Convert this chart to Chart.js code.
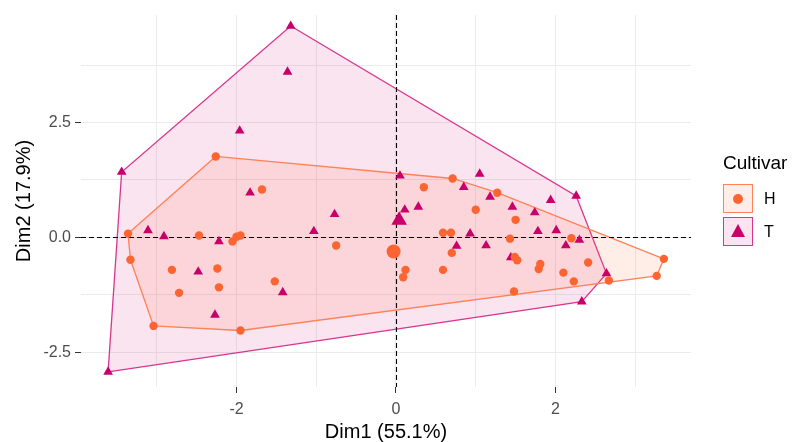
<!DOCTYPE html>
<html lang="en">
<head>
    <meta charset="UTF-8">
    <title>PCA individuals by Cultivar</title>
    <script src="https://cdn.jsdelivr.net/npm/chart.js"></script>
    <style>
        html, body { margin: 0; padding: 0; background: #fff; }
        #wrap { position: relative; width: 795px; height: 442px; font-family: "Liberation Sans", Arial, sans-serif; }
        #legend { position: absolute; left: 723px; top: 152px; color: #000; }
        #legend .title { font-size: 19px; line-height: 22px; margin-bottom: 9px; }
        #legend .row { display: flex; align-items: center; height: 31px; margin-bottom: 2px; }
        #legend .key { position: relative; width: 28px; height: 27px; margin-right: 11px; }
        #legend .lab { font-size: 16px; }
        .dot { position: absolute; left: 9px; top: 9px; width: 10px; height: 10px; border-radius: 50%; }
        .tri { position: absolute; left: 7px; top: 6px; width: 0; height: 0;
               border-left: 7px solid transparent; border-right: 7px solid transparent; border-bottom: 13px solid; }
    </style>
</head>
<body>
<div id="wrap">
    <canvas id="pcaChart" width="795" height="442"></canvas>
    <div id="legend"></div>
</div>

<script>
    // values (Dim1, Dim2)
    const groups = ['H', 'T'];
    const groupColors = ['#FC6532', '#C7006A'];
    const hullLines = ['#FF8157', '#D9358F'];
    const hullFills = ['rgba(255, 105, 55, 0.12)', 'rgba(205, 10, 110, 0.11)'];

    const hDim1 = [-2.26, -1.68, -3.36, -3.33, -2.47, -2.05, -2.00, -1.95, -2.81, -2.24, -2.22, -2.72, -3.04, -1.95, -1.52, -0.75,
                   0.12, 0.09, 0.35, 0.71, 1.27, 1.00, 1.50, 0.59, 0.69, 1.43, 2.20, 0.70, 1.49, 1.52, 1.81, 1.79, 2.41, 0.59,
                   2.10, 2.23, 2.67, 3.36, 3.27, 1.48];
    const hDim2 = [1.76, 1.04, 0.08, -0.49, 0.04, -0.09, 0.01, 0.04, -0.71, -0.68, -1.09, -1.21, -1.93, -2.03, -0.96, -0.18,
                   -0.71, -0.87, 1.09, 1.28, 0.97, 0.60, 0.38, 0.10, 0.10, -0.03, -0.02, -0.34, -0.43, -0.50, -0.58, -0.69, -0.55, -0.71,
                   -0.77, -0.96, -0.94, -0.47, -0.84, -1.18];

    const tDim1 = [-1.32, -1.36, -1.96, -3.44, 0.05, -1.83, -3.61, -3.11, -2.91, -2.22, -2.48, -2.27, -1.42, -1.03, -0.77, 0.11,
                   0.28, 1.05, 0.85, 1.18, 1.94, 2.26, 1.46, 1.74, 0.93, 1.78, 2.01, 2.30, 0.76, 1.13, 2.13, 1.44, 2.64, 2.33];
    const tDim2 = [4.60, 3.60, 2.32, 1.42, 1.34, 0.97, -2.93, 0.15, 0.02, -0.09, -0.75, -1.69, -1.20, 0.13, 0.50, 0.60,
                   0.66, 1.38, 1.09, 0.88, 0.81, 0.90, 0.66, 0.54, 0.08, 0.13, 0.15, -0.06, -0.19, -0.18, -0.18, -0.44, -0.79, -1.40];

    const centerH = [-0.03, -0.31];
    const centerT = [0.04, 0.37];

    const xLabels = [-2, 0, 2];
    const yLabels = [-2.5, 0, 2.5];

    function toPoints(xs, ys) {
        return xs.map((x, i) => ({ x: x, y: ys[i] }));
    }

    // convex hull (monotone chain), closed for drawing
    function hull(points) {
        const p = points.slice().sort((a, b) => a.x - b.x || a.y - b.y);
        const cross = (o, a, b) => (a.x - o.x) * (b.y - o.y) - (a.y - o.y) * (b.x - o.x);
        const lower = [];
        for (const pt of p) {
            while (lower.length >= 2 && cross(lower[lower.length - 2], lower[lower.length - 1], pt) <= 0) lower.pop();
            lower.push(pt);
        }
        const upper = [];
        for (let i = p.length - 1; i >= 0; i--) {
            const pt = p[i];
            while (upper.length >= 2 && cross(upper[upper.length - 2], upper[upper.length - 1], pt) <= 0) upper.pop();
            upper.push(pt);
        }
        upper.pop();
        lower.pop();
        const h = lower.concat(upper);
        h.push(h[0]);
        return h;
    }

    const hPts = toPoints(hDim1, hDim2);
    const tPts = toPoints(tDim1, tDim2);

    // dashed reference lines at 0, drawn above the hulls but below the points
    const zeroLines = {
        id: 'zeroLines',
        afterDatasetDraw(chart, args) {
            if (args.index !== 4) return;
            const { ctx, chartArea, scales } = chart;
            const x0 = Math.round(scales.x.getPixelForValue(0)) + 0.5;
            const y0 = Math.round(scales.y.getPixelForValue(0)) + 0.5;
            ctx.save();
            ctx.strokeStyle = '#000';
            ctx.lineWidth = 1.1;
            ctx.setLineDash([5, 3]);
            ctx.beginPath();
            ctx.moveTo(chartArea.left, y0);
            ctx.lineTo(chartArea.right, y0);
            ctx.moveTo(x0, chartArea.top);
            ctx.lineTo(x0, chartArea.bottom);
            ctx.stroke();
            ctx.restore();
        }
    };

    const isMajor = (v, list) => list.some(m => Math.abs(m - v) < 1e-9);
    const tickFont = { family: '"Liberation Sans", Arial, sans-serif', size: 16 };
    const titleFont = { family: '"Liberation Sans", Arial, sans-serif', size: 20, lineHeight: 1.0 };

    new Chart(document.getElementById('pcaChart'), {
        type: 'scatter',
        data: {
            datasets: [
                { label: 'H', data: hPts, pointStyle: 'circle', pointRadius: 4.2, borderWidth: 0,
                  backgroundColor: groupColors[0] },
                { label: 'T', data: tPts, pointStyle: 'triangle', pointRadius: 5.6, borderWidth: 0,
                  backgroundColor: groupColors[1] },
                { label: 'H mean', data: [{ x: centerH[0], y: centerH[1] }], pointStyle: 'circle', pointRadius: 7,
                  borderWidth: 0, backgroundColor: groupColors[0] },
                { label: 'T mean', data: [{ x: centerT[0], y: centerT[1] }], pointStyle: 'triangle', pointRadius: 9,
                  borderWidth: 0, backgroundColor: groupColors[1] },
                { type: 'line', label: 'H hull', data: hull(hPts), borderColor: hullLines[0], borderWidth: 1.3,
                  backgroundColor: hullFills[0], fill: 'shape', pointRadius: 0, tension: 0 },
                { type: 'line', label: 'T hull', data: hull(tPts), borderColor: hullLines[1], borderWidth: 1.3,
                  backgroundColor: hullFills[1], fill: 'shape', pointRadius: 0, tension: 0 }
            ]
        },
        options: {
            responsive: false,
            devicePixelRatio: 1,
            animation: false,
            layout: { padding: { left: 0, right: 104, top: 15, bottom: 0 } },
            plugins: {
                legend: { display: false },
                tooltip: { enabled: false }
            },
            scales: {
                x: {
                    type: 'linear',
                    min: -3.95,
                    max: 3.70,
                    afterFit(scale) { scale.height = 55; },
                    border: { display: false },
                    grid: {
                        color: '#EBEBEB',
                        lineWidth: 1,
                        tickColor: ctx => isMajor(ctx.tick.value, xLabels) ? '#333333' : 'rgba(0,0,0,0)',
                        tickLength: 6
                    },
                    ticks: {
                        stepSize: 1,
                        includeBounds: false,
                        autoSkip: false,
                        maxRotation: 0,
                        padding: 7,
                        color: '#4D4D4D',
                        font: tickFont,
                        callback: v => isMajor(v, xLabels) ? String(Math.round(v)) : ''
                    },
                    title: {
                        display: true,
                        text: 'Dim1 (55.1%)',
                        color: '#000',
                        padding: { top: 0, bottom: 0 },
                        font: titleFont
                    }
                },
                y: {
                    type: 'linear',
                    min: -3.26,
                    max: 4.84,
                    afterFit(scale) { scale.width = 81; },
                    border: { display: false },
                    grid: {
                        color: '#EBEBEB',
                        lineWidth: 1,
                        tickColor: ctx => isMajor(ctx.tick.value, yLabels) ? '#333333' : 'rgba(0,0,0,0)',
                        tickLength: 6
                    },
                    ticks: {
                        stepSize: 1.25,
                        includeBounds: false,
                        autoSkip: false,
                        padding: 4,
                        color: '#4D4D4D',
                        font: tickFont,
                        callback: v => isMajor(v, yLabels) ? v.toFixed(1) : ''
                    },
                    title: {
                        display: true,
                        text: 'Dim2 (17.9%)',
                        color: '#000',
                        padding: { top: 14, bottom: 0 },
                        font: titleFont
                    }
                }
            }
        },
        plugins: [zeroLines]
    });

    // legend
    const legend = document.getElementById('legend');
    let html = '<div class="title">Cultivar</div>';
    groups.forEach((g, i) => {
        const glyph = i === 0
            ? '<span class="dot" style="background:' + groupColors[i] + '"></span>'
            : '<span class="tri" style="border-bottom-color:' + groupColors[i] + '"></span>';
        html += '<div class="row"><div class="key" style="border:1.5px solid ' + hullLines[i] +
                ';background:' + hullFills[i] + '">' + glyph + '</div><span class="lab">' + g + '</span></div>';
    });
    legend.innerHTML = html;
</script>
</body>
</html>
